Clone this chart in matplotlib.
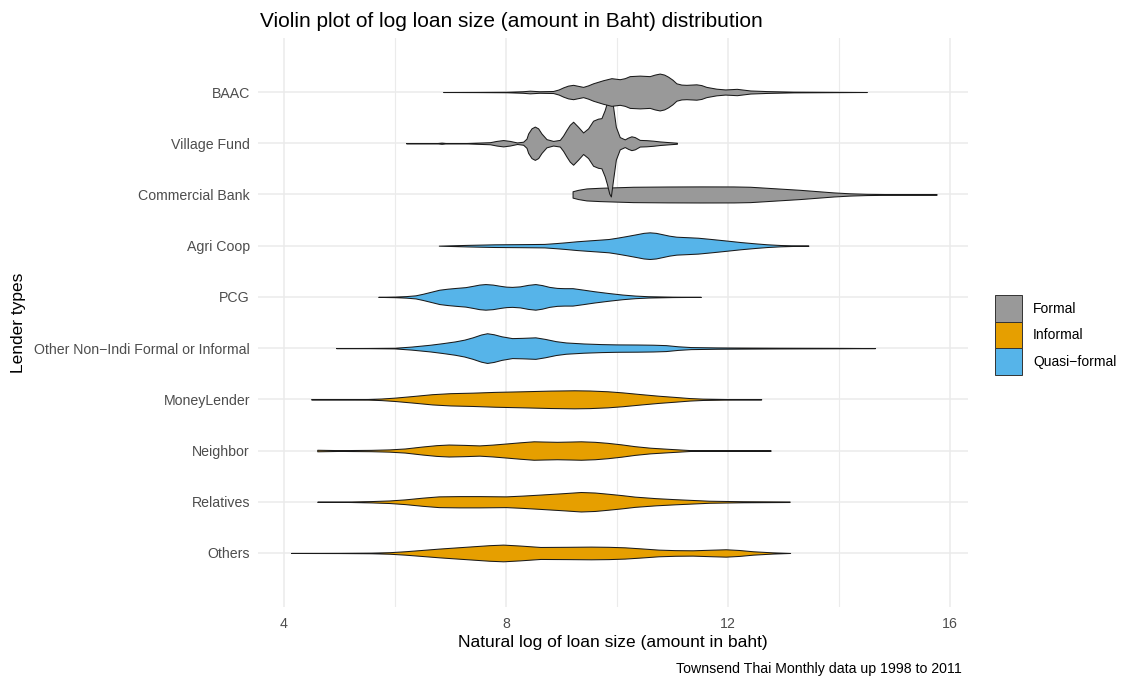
import matplotlib.pyplot as plt
from matplotlib.patches import Patch

plt.rcParams['font.family'] = ['Liberation Sans', 'DejaVu Sans']

# lender types, top to bottom, and their group
lenders = ['BAAC', 'Village Fund', 'Commercial Bank', 'Agri Coop', 'PCG',
           'Other Non\u2212Indi Formal or Informal', 'MoneyLender', 'Neighbor',
           'Relatives', 'Others']
lender_group = ['Formal', 'Formal', 'Formal', 'Quasi\u2212formal', 'Quasi\u2212formal',
                'Quasi\u2212formal', 'Informal', 'Informal', 'Informal', 'Informal']
group_names = ['Formal', 'Informal', 'Quasi\u2212formal']
group_colors = ['#999999', '#E69F00', '#56B4E9']

# violin profiles: log loan size and half width (in row units)
baac_x = [6.87, 7.5, 8.01, 8.3, 8.43, 8.6, 8.85, 8.95, 9.03, 9.12, 9.21, 9.3, 9.39,
          9.48, 9.57, 9.66, 9.75, 9.9, 10.05, 10.14, 10.23, 10.41, 10.59, 10.68, 10.77,
          10.85, 10.92, 11.0, 11.07, 11.16, 11.25, 11.43, 11.52, 11.61, 11.79, 11.95,
          12.16, 12.4, 12.7, 13.18, 14.5]
baac_w = [0.0, 0.002, 0.005, 0.015, 0.026, 0.015, 0.02, 0.05, 0.09, 0.125, 0.14, 0.12,
          0.10, 0.13, 0.17, 0.2, 0.23, 0.27, 0.25, 0.27, 0.31, 0.32, 0.31, 0.34, 0.36,
          0.34, 0.30, 0.24, 0.17, 0.145, 0.14, 0.15, 0.135, 0.1, 0.065, 0.05, 0.062,
          0.03, 0.018, 0.007, 0.0]

vf_x = [6.2, 6.75, 6.84, 6.93, 7.29, 7.71, 7.83, 7.95, 8.07, 8.2, 8.31, 8.37, 8.4, 8.46,
        8.52, 8.58, 8.64, 8.73, 8.85, 8.97, 9.03, 9.09, 9.15, 9.21, 9.3, 9.39, 9.48, 9.57,
        9.66, 9.72, 9.78, 9.82, 9.86, 9.89, 9.93, 9.98, 10.05, 10.14, 10.2, 10.26, 10.32,
        10.41, 10.53, 10.65, 10.77, 10.95, 11.08]
vf_w = [0.0, 0.002, 0.012, 0.002, 0.004, 0.02, 0.045, 0.062, 0.045, 0.015, 0.03, 0.09,
        0.19, 0.29, 0.325, 0.29, 0.19, 0.08, 0.045, 0.065, 0.15, 0.26, 0.36, 0.42, 0.32,
        0.21, 0.29, 0.44, 0.48, 0.49, 0.65, 0.8, 0.98, 1.04, 0.71, 0.32, 0.12, 0.075,
        0.11, 0.135, 0.12, 0.065, 0.06, 0.05, 0.035, 0.02, 0.01]

cb_x = [9.2, 9.3, 9.45, 9.69, 9.99, 10.29, 10.9, 11.5, 12.1, 12.4, 12.7, 13.0, 13.3,
        13.6, 13.9, 14.2, 14.5, 15.1, 15.76]
cb_w = [0.062, 0.09, 0.117, 0.13, 0.14, 0.15, 0.155, 0.157, 0.156, 0.15, 0.13, 0.11,
        0.09, 0.065, 0.04, 0.022, 0.012, 0.005, 0.003]

agri_x = [6.79, 7.3, 7.79, 8.3, 8.69, 8.9, 9.07, 9.27, 9.46, 9.66, 9.85, 10.0, 10.16,
          10.36, 10.48, 10.59, 10.7, 10.81, 10.94, 11.07, 11.27, 11.46, 11.7, 11.97,
          12.23, 12.49, 12.7, 12.94, 13.2, 13.45]
agri_w = [0.0, 0.015, 0.026, 0.03, 0.034, 0.05, 0.065, 0.085, 0.1, 0.115, 0.13, 0.155,
          0.185, 0.225, 0.25, 0.26, 0.25, 0.225, 0.195, 0.175, 0.165, 0.155, 0.13, 0.1,
          0.07, 0.045, 0.027, 0.013, 0.005, 0.0]

pcg_x = [5.7, 6.0, 6.2, 6.37, 6.5, 6.65, 6.8, 6.95, 7.1, 7.27, 7.4, 7.52, 7.63, 7.76,
         7.9, 8.0, 8.11, 8.25, 8.4, 8.53, 8.65, 8.78, 8.92, 9.05, 9.2, 9.4, 9.59, 9.85,
         10.1, 10.33, 10.56, 11.0, 11.51]
pcg_w = [0.0, 0.006, 0.015, 0.03, 0.06, 0.1, 0.14, 0.16, 0.175, 0.19, 0.215, 0.24, 0.25,
         0.24, 0.215, 0.2, 0.195, 0.205, 0.235, 0.25, 0.23, 0.195, 0.175, 0.17, 0.17,
         0.14, 0.11, 0.075, 0.045, 0.025, 0.013, 0.004, 0.0]

other_x = [4.94, 5.5, 5.99, 6.3, 6.63, 6.85, 7.08, 7.25, 7.4, 7.55, 7.66, 7.78, 7.92,
           8.11, 8.3, 8.53, 8.7, 8.9, 9.08, 9.4, 9.72, 10.0, 10.36, 10.65, 10.88, 11.1,
           11.33, 11.8, 12.29, 12.94, 14.0, 14.65]
other_w = [0.0, 0.002, 0.006, 0.03, 0.065, 0.095, 0.13, 0.165, 0.21, 0.265, 0.29, 0.27,
           0.23, 0.195, 0.2, 0.21, 0.18, 0.135, 0.11, 0.09, 0.078, 0.072, 0.07, 0.066,
           0.058, 0.035, 0.02, 0.013, 0.01, 0.007, 0.004, 0.0]

money_x = [4.49, 5.0, 5.51, 5.75, 6.0, 6.33, 6.67, 7.0, 7.4, 7.8, 8.31, 8.8, 9.23, 9.5,
           9.83, 10.1, 10.44, 10.75, 11.05, 11.3, 11.54, 12.0, 12.6]
money_w = [0.0, 0.002, 0.006, 0.015, 0.033, 0.065, 0.1, 0.12, 0.13, 0.145, 0.157, 0.17,
           0.176, 0.172, 0.157, 0.135, 0.1, 0.07, 0.046, 0.025, 0.013, 0.005, 0.0]

neigh_x = [4.6, 5.0, 5.57, 5.9, 6.18, 6.49, 6.75, 6.97, 7.25, 7.52, 7.75, 8.0, 8.25, 8.5,
           8.7, 8.92, 9.15, 9.35, 9.6, 9.83, 10.08, 10.32, 10.6, 10.93, 11.36, 12.0, 12.77]
neigh_w = [0.015, 0.008, 0.013, 0.022, 0.04, 0.078, 0.105, 0.117, 0.11, 0.1, 0.115, 0.137,
           0.16, 0.18, 0.175, 0.17, 0.175, 0.18, 0.17, 0.15, 0.12, 0.085, 0.055, 0.033,
           0.006, 0.002, 0.0]

rel_x = [4.6, 5.2, 5.57, 5.9, 6.18, 6.5, 6.79, 7.15, 7.52, 8.0, 8.3, 8.62, 9.0, 9.35,
         9.6, 9.83, 10.08, 10.32, 10.7, 11.05, 11.66, 12.27, 13.11]
rel_w = [0.0, 0.005, 0.013, 0.025, 0.046, 0.08, 0.105, 0.11, 0.11, 0.105, 0.12, 0.14,
         0.165, 0.19, 0.18, 0.157, 0.13, 0.1, 0.07, 0.05, 0.02, 0.01, 0.005]

others_x = [4.13, 5.0, 5.57, 5.9, 6.18, 6.5, 6.79, 7.1, 7.4, 7.7, 7.95, 8.25, 8.62, 9.1,
            9.53, 9.85, 10.14, 10.45, 10.75, 11.05, 11.36, 11.65, 11.96, 12.2, 12.45,
            12.8, 13.12]
others_w = [0.0, 0.002, 0.006, 0.015, 0.033, 0.06, 0.085, 0.108, 0.13, 0.152, 0.163,
            0.145, 0.117, 0.12, 0.124, 0.12, 0.11, 0.088, 0.065, 0.055, 0.052, 0.062,
            0.072, 0.058, 0.033, 0.012, 0.0]

profiles = [(baac_x, baac_w), (vf_x, vf_w), (cb_x, cb_w), (agri_x, agri_w),
            (pcg_x, pcg_w), (other_x, other_w), (money_x, money_w),
            (neigh_x, neigh_w), (rel_x, rel_w), (others_x, others_w)]

fig = plt.figure(figsize=(11.24, 6.77), dpi=100)
ax = fig.add_axes([0.2295, 0.1034, 0.6317, 0.8405])

# bottom row first so upper violins sit on top
for i in reversed(range(len(lenders))):
    xs, ws = profiles[i]
    col = group_colors[group_names.index(lender_group[i])]
    lo = [i - w for w in ws]
    hi = [i + w for w in ws]
    ax.fill_between(xs, lo, hi, facecolor=col, edgecolor='#1a1a1a', linewidth=0.75,
                    zorder=3)

ax.set_xlim(3.532, 16.324)
ax.set_ylim(9 + 1.055, -1.055)
ax.set_xticks([4, 8, 12, 16])
ax.set_xticks([6, 10, 14], minor=True)
ax.set_yticks(range(len(lenders)))
ax.set_yticklabels(lenders)
ax.grid(which='major', color='#EBEBEB', linewidth=1.1, zorder=0)
ax.grid(which='minor', axis='x', color='#EBEBEB', linewidth=0.8, zorder=0)
ax.set_axisbelow(True)
for s in ax.spines.values():
    s.set_visible(False)
ax.tick_params(which='both', length=0, labelsize=10.2, labelcolor='#4D4D4D')
ax.tick_params(axis='y', pad=5.8)
ax.tick_params(axis='x', pad=7)

ax.set_xlabel('Natural log of loan size (amount in baht)', fontsize=12.5, labelpad=3)
ax.set_ylabel('Lender types', fontsize=12.5, labelpad=6)

fig.text(260 / 1124, 1 - 27 / 677, 'Violin plot of log loan size (amount in Baht) distribution',
         fontsize=15, ha='left', va='baseline')
fig.text(962 / 1124, 1 - 673 / 677, 'Townsend Thai Monthly data up 1998 to 2011',
         fontsize=10.2, ha='right', va='baseline')

handles = [Patch(facecolor=c, edgecolor='#333333', linewidth=0.7) for c in group_colors]
fig.legend(handles, group_names, loc='center left',
           bbox_to_anchor=(995 / 1124, 1 - 335 / 677), frameon=False, fontsize=10,
           handlelength=1.95, handleheight=2.55, labelspacing=0, handletextpad=0.8,
           borderpad=0, borderaxespad=0)

fig.savefig('out.png', dpi=100)
